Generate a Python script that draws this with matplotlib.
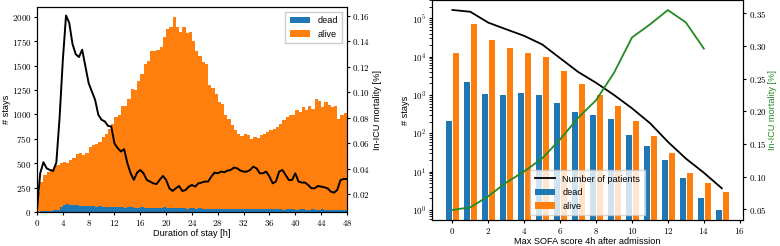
import numpy as np
import matplotlib
matplotlib.use("Agg")
import matplotlib.pyplot as plt
from matplotlib.ticker import FuncFormatter, MultipleLocator, FixedLocator

plt.rcParams.update({
    "font.family": ["Liberation Sans", "DejaVu Sans"],
    "mathtext.fontset": "cm",
    "font.size": 6.6,
    "axes.labelsize": 6.6,
    "legend.fontsize": 6.6,
    "xtick.labelsize": 6.5,
    "ytick.labelsize": 6.5,
    "xtick.major.size": 2.5,
    "ytick.major.size": 2.5,
    "xtick.major.pad": 1.8,
    "ytick.major.pad": 1.5,
    "axes.linewidth": 0.8,
})

BLUE = "#1f77b4"
ORANGE = "#ff7f0e"
GREEN = "#228b22"

# ---- left panel: stays per half-hour bin of ICU duration ----
bin_edges = np.arange(0, 48.5, 0.5)
stays_total = [
    200, 310, 378, 411, 445, 462, 480, 497, 513, 497, 537, 558,
    592, 600, 580, 600, 667, 684, 694, 718, 769, 803, 854, 898,
    973, 990, 1082, 1082, 1160, 1262, 1245, 1347, 1415, 1517, 1551, 1653,
    1653, 1660, 1687, 1789, 1874, 1891, 1993, 1898, 1840, 1891, 1830, 1840,
    1755, 1653, 1602, 1534, 1517, 1296, 1272, 1211, 1126, 1109, 990, 956,
    888, 837, 803, 775, 803, 786, 752, 769, 762, 786, 796, 820,
    837, 854, 871, 898, 939, 973, 990, 990, 1041, 1024, 1075, 1041,
    1082, 1058, 1160, 1136, 1075, 1126, 1092, 1075, 1082, 956, 990, 1014,
]
stays_dead = [
    5, 8, 10, 12, 15, 18, 25, 55, 75, 78, 72, 70,
    68, 65, 62, 60, 58, 60, 55, 58, 52, 50, 55, 52,
    50, 48, 52, 45, 48, 50, 45, 42, 48, 45, 40, 42,
    45, 40, 42, 50, 45, 40, 42, 38, 40, 38, 35, 40,
    37, 35, 36, 34, 33, 35, 32, 33, 31, 30, 32, 30,
    31, 29, 30, 28, 30, 29, 27, 28, 30, 27, 28, 26,
    28, 27, 26, 27, 25, 26, 28, 26, 25, 27, 26, 25,
    24, 26, 25, 24, 26, 25, 24, 25, 23, 24, 25, 24,
]
stays_alive = [t - d for t, d in zip(stays_total, stays_dead)]

hours = np.arange(0, 48.5, 0.5)
mortality_by_hour = [
    0.0076, 0.0365, 0.0452, 0.0404, 0.0391, 0.0383, 0.0450, 0.0800,
    0.1250, 0.1603, 0.1545, 0.1380, 0.1300, 0.1277, 0.1335, 0.1204,
    0.1073, 0.1007, 0.0942, 0.0824, 0.0785, 0.0772, 0.0737, 0.0732,
    0.0600, 0.0562, 0.0536, 0.0554, 0.0444, 0.0365, 0.0313, 0.0370,
    0.0391, 0.0365, 0.0313, 0.0300, 0.0286, 0.0280, 0.0313, 0.0344,
    0.0313, 0.0247, 0.0226, 0.0247, 0.0265, 0.0226, 0.0233, 0.0260,
    0.0273, 0.0260, 0.0286, 0.0292, 0.0300, 0.0300, 0.0339, 0.0370,
    0.0365, 0.0378, 0.0373, 0.0386, 0.0391, 0.0410, 0.0404, 0.0386,
    0.0378, 0.0378, 0.0391, 0.0417, 0.0404, 0.0365, 0.0365, 0.0378,
    0.0339, 0.0286, 0.0300, 0.0378, 0.0391, 0.0352, 0.0312, 0.0312,
    0.0365, 0.0300, 0.0292, 0.0292, 0.0273, 0.0247, 0.0247, 0.0265,
    0.0260, 0.0255, 0.0247, 0.0221, 0.0213, 0.0234, 0.0312, 0.0320,
    0.0320,
]

# ---- right panel: stays per max SOFA score ----
sofa = np.arange(16)
sofa_dead = [214, 2180, 1043, 980, 1130, 1000, 610, 360, 300, 232, 90, 47, 20, 7, 2, 1]
sofa_alive = [12200, 71300, 27200, 16600, 12200, 9600, 4300, 1950, 1000, 517, 210, 85, 30, 9, 5, 3]
sofa_patients = [165000, 148000, 77000, 51600, 34800, 20800, 9100, 4000,
                 2080, 1000, 450, 185, 60, 22, 9.4, 3.7]
sofa_mort_x = np.arange(15)
sofa_mortality = [0.049, 0.053, 0.070, 0.091, 0.108, 0.128, 0.157, 0.190,
                  0.217, 0.259, 0.313, 0.333, 0.355, 0.336, 0.296]


def num_fmt(v, pos):
    return f"${v:g}$"


def pct_fmt(v, pos):
    return f"${v:.2f}$"


def pow_fmt(v, pos):
    if v <= 0:
        return ""
    e = int(round(np.log10(v)))
    return f"$10^{{{e}}}$"


fig = plt.figure(figsize=(7.8, 2.46), dpi=100)

# left panel
ax1 = fig.add_axes([0.0474, 0.1382, 0.3974, 0.8333])
ax1.bar(bin_edges[:-1], stays_dead, width=0.5, align="edge", color=BLUE,
        linewidth=0, label="dead")
ax1.bar(bin_edges[:-1], stays_alive, width=0.5, align="edge", bottom=stays_dead,
        color=ORANGE, linewidth=0, label="alive")
ax1.set_xlim(0, 48)
ax1.set_ylim(0, 2100)
ax1.xaxis.set_major_locator(MultipleLocator(4))
ax1.yaxis.set_major_locator(MultipleLocator(250))
ax1.xaxis.set_major_formatter(FuncFormatter(num_fmt))
ax1.yaxis.set_major_formatter(FuncFormatter(num_fmt))
ax1.set_xlabel("Duration of stay [h]", labelpad=1)
ax1.set_ylabel("# stays", labelpad=0.5)
ax1.legend(loc="upper right", handlelength=2.2, borderpad=0.5,
           fancybox=False, edgecolor="#cccccc", framealpha=1)

ax1r = ax1.twinx()
ax1r.plot(hours, mortality_by_hour, color="black", lw=1.4)
ax1r.set_ylim(0.0061, 0.167)
ax1r.yaxis.set_major_locator(MultipleLocator(0.02))
ax1r.yaxis.set_major_formatter(FuncFormatter(pct_fmt))
ax1r.set_ylabel("In-ICU mortality [%]", labelpad=2)

# right panel
ax2 = fig.add_axes([0.5535, 0.1057, 0.3995, 0.8943])
ax2.bar(sofa - 0.17, sofa_dead, width=0.34, color=BLUE, label="dead")
ax2.bar(sofa + 0.22, sofa_alive, width=0.34, color=ORANGE, label="alive")
ax2.plot(sofa, sofa_patients, color="black", lw=1.3, label="Number of patients")
ax2.set_yscale("log")
ax2.set_ylim(0.55, 3.0e5)
ax2.set_xlim(-1.15, 16.2)
ax2.yaxis.set_major_locator(FixedLocator([1, 10, 100, 1e3, 1e4, 1e5]))
ax2.yaxis.set_major_formatter(FuncFormatter(pow_fmt))
ax2.yaxis.set_minor_formatter(FuncFormatter(lambda v, p: ""))
ax2.xaxis.set_major_locator(MultipleLocator(2))
ax2.xaxis.set_major_formatter(FuncFormatter(num_fmt))
ax2.set_xlabel("Max SOFA score 4h after admission", labelpad=1)
ax2.set_ylabel("# stays", labelpad=1)
ax2.legend(loc="lower center", handlelength=2.2, borderpad=0.5,
           fancybox=False, edgecolor="#cccccc", framealpha=0.8)

ax2r = ax2.twinx()
ax2r.plot(sofa_mort_x, sofa_mortality, color=GREEN, lw=1.3)
ax2r.set_ylim(0.0336, 0.3704)
ax2r.yaxis.set_major_locator(MultipleLocator(0.05))
ax2r.yaxis.set_major_formatter(FuncFormatter(pct_fmt))
ax2r.set_ylabel("In-ICU mortality [%]", color=GREEN, labelpad=1)

fig.savefig("out.png", dpi=100)
